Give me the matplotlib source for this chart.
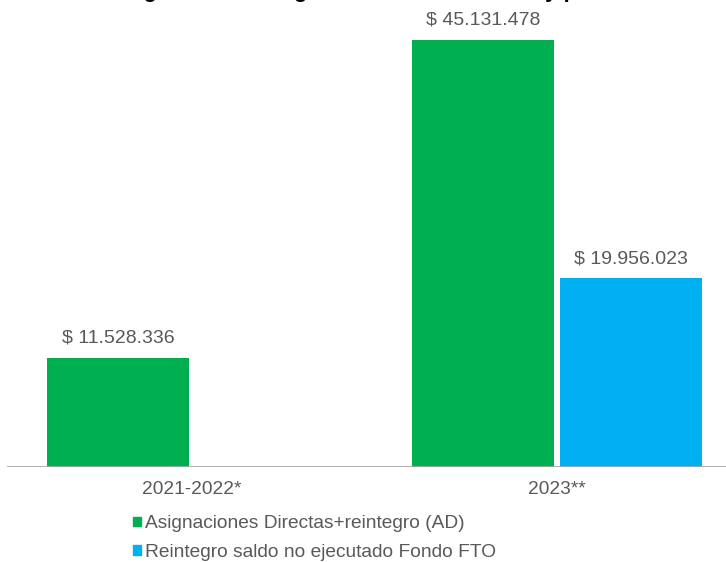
import matplotlib
matplotlib.use('Agg')
import matplotlib.pyplot as plt
import numpy as np
from matplotlib.patches import Patch

plt.rcParams['font.family'] = ['Liberation Sans', 'DejaVu Sans']

categories = ['2021-2022*', '2023**']
series_names = ['Asignaciones Directas+reintegro (AD)',
                'Reintegro saldo no ejecutado Fondo FTO']
ad_values = [11528336, 45131478]
fto_values = [0, 19956023]
title = 'Monto asignado total según fuente de recursos y periodo'

green = '#00B050'
blue = '#00B0F0'
grey_text = '#595959'


def fmt(v):
    return '$ ' + '{:,}'.format(v).replace(',', '.')


fig = plt.figure(figsize=(7.26, 5.62), dpi=100)
ax = fig.add_axes([0, 95 / 562, 1, 467 / 562])

x = np.arange(len(categories))
width = 0.389
off = 0.203

bars_ad = ax.bar(x - off, ad_values, width, color=green, label=series_names[0])
bars_fto = ax.bar(x + off, fto_values, width, color=blue, label=series_names[1])

for bars, vals in [(bars_ad, ad_values), (bars_fto, fto_values)]:
    for b, v in zip(bars, vals):
        if v:
            ax.annotate(fmt(v), (b.get_x() + b.get_width() / 2, v),
                        xytext=(0, 8), textcoords='offset points',
                        ha='center', va='bottom', fontsize=14, color=grey_text)

ax.set_xlim(-192 / 365, 534 / 365)
ax.set_ylim(0, 467 / 9.46 * 1e6)
ax.axhline(0, xmin=8 / 726, color='#A6A6A6', lw=2, zorder=3)

for s in ax.spines.values():
    s.set_visible(False)
ax.set_yticks([])
ax.set_xticks(x)
ax.set_xticklabels(categories, fontsize=13.8, color=grey_text)
ax.tick_params(axis='x', length=0, pad=10)

# title, cut off at the top edge in the source image
fig.text(40 / 726, 1 + 3 / 562, title, fontsize=16, fontweight='bold',
         color='black', ha='left', va='baseline')

handles = [Patch(color=green), Patch(color=blue)]
fig.legend(handles, series_names, loc='upper left',
           bbox_to_anchor=(116 / 726, 1 - 498 / 562), frameon=False,
           handlelength=0.4, handleheight=0.4, handletextpad=0.2,
           labelspacing=0.6, fontsize=13.8, labelcolor=grey_text)

fig.savefig('out.png', dpi=100)
